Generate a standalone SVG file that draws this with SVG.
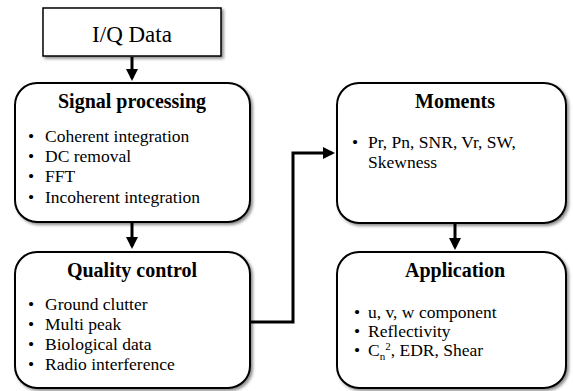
<svg xmlns="http://www.w3.org/2000/svg" width="573" height="391" viewBox="0 0 573 391">
<style>
.box{fill:#fff;stroke:#000;stroke-width:2;filter:url(#sh)}
.t{fill:#000}
.title{font-size:20px;font-weight:bold;text-anchor:middle}
.b{font-size:17.5px}
.con{fill:none;stroke:#000;stroke-width:3}
</style>
<defs>
<filter id="sh" x="-10%" y="-10%" width="125%" height="125%">
<feDropShadow dx="2" dy="2" stdDeviation="1.5" flood-color="#000" flood-opacity="0.45"/>
</filter>
<marker id="ah" markerWidth="4" markerHeight="4" refX="3" refY="2" orient="auto" markerUnits="strokeWidth">
<path d="M0,0 L4,2 L0,4 z" fill="#000"/>
</marker>
</defs>
<g id="connectors">
<line class="con" x1="132" y1="57" x2="132" y2="78" marker-end="url(#ah)"/>
<line class="con" x1="132" y1="223" x2="132" y2="246" marker-end="url(#ah)"/>
<line class="con" x1="455" y1="224" x2="455" y2="247" marker-end="url(#ah)"/>
<polyline class="con" points="250,322 293,322 293,153 332,153" marker-end="url(#ah)"/>
</g>
<g font-family="'Liberation Serif', 'Times New Roman', 'DejaVu Serif', serif">
<g id="iq">
<rect class="box" x="43" y="8" width="178" height="48" style="stroke-width:1.5"/>
<text class="t" x="132" y="42" font-size="23" text-anchor="middle">I/Q Data</text>
</g>
<g id="signal">
<rect class="box" x="15" y="83" width="235" height="139" rx="22"/>
<text class="t title" x="132" y="108">Signal processing</text>
<text class="t b" x="28" y="142">•</text><text class="t b" x="45" y="142">Coherent integration</text>
<text class="t b" x="28" y="162">•</text><text class="t b" x="45" y="162">DC removal</text>
<text class="t b" x="28" y="182">•</text><text class="t b" x="45" y="182">FFT</text>
<text class="t b" x="28" y="203">•</text><text class="t b" x="45" y="203">Incoherent integration</text>
</g>
<g id="quality">
<rect class="box" x="15" y="252" width="235" height="136" rx="22"/>
<text class="t title" x="132" y="277">Quality control</text>
<text class="t b" x="28" y="310">•</text><text class="t b" x="45" y="310">Ground clutter</text>
<text class="t b" x="28" y="330">•</text><text class="t b" x="45" y="330">Multi peak</text>
<text class="t b" x="28" y="350">•</text><text class="t b" x="45" y="350">Biological data</text>
<text class="t b" x="28" y="370">•</text><text class="t b" x="45" y="370">Radio interference</text>
</g>
<g id="moments">
<rect class="box" x="337" y="83" width="229" height="140" rx="22"/>
<text class="t title" x="455" y="108">Moments</text>
<text class="t b" x="352" y="148">•</text><text class="t b" x="368" y="148">Pr, Pn, SNR, Vr, SW,</text>
<text class="t b" x="368" y="168">Skewness</text>
</g>
<g id="application">
<rect class="box" x="337" y="252" width="229" height="136" rx="22"/>
<text class="t title" x="455" y="277">Application</text>
<text class="t b" x="354" y="318">•</text><text class="t b" x="368" y="318">u, v, w component</text>
<text class="t b" x="354" y="337">•</text><text class="t b" x="368" y="337">Reflectivity</text>
<text class="t b" x="354" y="356">•</text><text class="t b" x="368" y="356">C<tspan font-size="11" dy="4">n</tspan><tspan font-size="11" dy="-10">2</tspan><tspan dy="6">, EDR, Shear</tspan></text>
</g>
</g>
</svg>
